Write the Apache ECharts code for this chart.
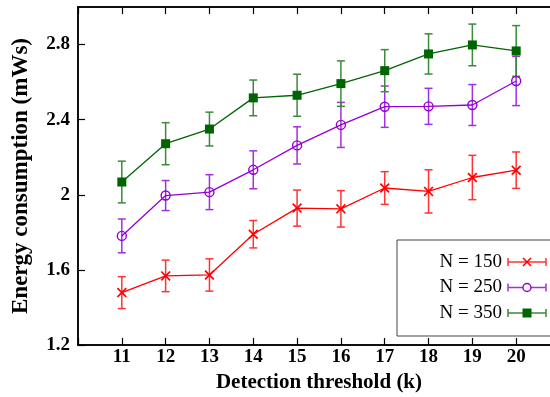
<!DOCTYPE html>
<html><head><meta charset="utf-8">
<script src="https://cdn.jsdelivr.net/npm/echarts@6/dist/echarts.min.js"></script>
<style>html,body{margin:0;padding:0;background:#fff}#c{width:550px;height:397px}</style>
</head><body><div id="c"></div>
<script>
const thresholds = [11,12,13,14,15,16,17,18,19,20];
const n150 = [1.479,1.568,1.573,1.790,1.929,1.925,2.036,2.018,2.092,2.131];
const n150Err = [0.085,0.084,0.086,0.073,0.096,0.097,0.087,0.115,0.118,0.097];
const n250 = [1.781,1.996,2.014,2.133,2.263,2.372,2.469,2.471,2.478,2.606];
const n250Err = [0.090,0.080,0.093,0.101,0.099,0.120,0.110,0.096,0.109,0.131];
const n350 = [2.068,2.272,2.350,2.516,2.530,2.592,2.661,2.750,2.798,2.766];
const n350Err = [0.111,0.112,0.090,0.095,0.112,0.121,0.112,0.107,0.111,0.135];
const seriesNames = ['N = 150','N = 250','N = 350'];
const yTicks = [1.2,1.6,2.0,2.4,2.8];

const RED='#ff0000', PURPLE='#9400d3', GREEN='#006400';
const RED_E='#ff3333', PURPLE_E='#a030e0', GREEN_E='#3a8a3a';
const SERIF='"Liberation Serif","DejaVu Serif",serif';
const crossPath='path://M0,0.12 L0.12,0 L0.5,0.38 L0.88,0 L1,0.12 L0.62,0.5 L1,0.88 L0.88,1 L0.5,0.62 L0.12,1 L0,0.88 L0.38,0.5 Z';

function errData(vals, errs){ return thresholds.map((x,i)=>[x, vals[i]-errs[i], vals[i]+errs[i]]); }
function errSeries(vals, errs, color){
  return {type:'custom', data:errData(vals,errs), z:2, silent:true,
    renderItem:function(params, api){
      const x=api.value(0);
      const lo=api.coord([x, api.value(1)]);
      const hi=api.coord([x, api.value(2)]);
      const w=4;
      const st={stroke:color, lineWidth:1.5};
      return {type:'group', children:[
        {type:'line', shape:{x1:lo[0],y1:lo[1],x2:hi[0],y2:hi[1]}, style:st},
        {type:'line', shape:{x1:lo[0]-w,y1:lo[1],x2:lo[0]+w,y2:lo[1]}, style:st},
        {type:'line', shape:{x1:hi[0]-w,y1:hi[1],x2:hi[0]+w,y2:hi[1]}, style:st}
      ]};
    }};
}
function pair(vals){ return thresholds.map((x,i)=>[x, vals[i]]); }

const chart = echarts.init(document.getElementById('c'), null, {renderer:'canvas'});
const axisLineStyle={color:'#000', width:1.5};
const option = {
  animation:false,
  grid:{left:78, top:7, width:482, height:338, outerBoundsMode:'none', containLabel:false,
    show:true, borderColor:'#000', borderWidth:1.5},
  xAxis:[{type:'value', min:10, max:21, interval:1,
      name:'Detection threshold (k)', nameLocation:'middle', nameGap:26,
      nameTextStyle:{fontFamily:SERIF, fontWeight:'bold', fontSize:21, color:'#000'},
      axisLine:{lineStyle:axisLineStyle}, splitLine:{show:false},
      axisTick:{inside:true, length:7, lineStyle:{color:'#000', width:1.2}},
      axisLabel:{fontFamily:SERIF, fontWeight:'bold', fontSize:19, color:'#000', margin:3,
        formatter:v=>(v>=11&&v<=20)?String(v):''}},
    {type:'value', position:'top', min:10, max:21, interval:1,
      axisLine:{lineStyle:axisLineStyle}, splitLine:{show:false},
      axisTick:{inside:true, length:7, lineStyle:{color:'#000', width:1.2}},
      axisLabel:{show:false}}],
  yAxis:[{type:'value', min:1.2, max:3.0, interval:0.4,
      name:'Energy consumption (mWs)', nameLocation:'middle', nameGap:45,
      nameTextStyle:{fontFamily:SERIF, fontWeight:'bold', fontSize:23, color:'#000'},
      axisLine:{lineStyle:axisLineStyle}, splitLine:{show:false},
      axisTick:{inside:true, length:7, lineStyle:{color:'#000', width:1.2}},
      axisLabel:{fontFamily:SERIF, fontWeight:'bold', fontSize:19, color:'#000', margin:8,
        showMaxLabel:false, formatter:v=>{const r=Math.round(v*10)/10; return yTicks.some(t=>Math.abs(t-r)<1e-6)?String(r):'';}}}],
  series:[
    errSeries(n150,n150Err,RED_E),
    errSeries(n250,n250Err,PURPLE_E),
    errSeries(n350,n350Err,GREEN_E),
    {name:seriesNames[0], type:'line', data:pair(n150), z:3, symbol:crossPath, symbolSize:10,
      lineStyle:{color:RED, width:1.3}, itemStyle:{color:RED}},
    {name:seriesNames[1], type:'line', data:pair(n250), z:3, symbol:'circle', symbolSize:9,
      lineStyle:{color:PURPLE, width:1.3}, itemStyle:{color:'rgba(0,0,0,0)', borderColor:PURPLE, borderWidth:1.4}},
    {name:seriesNames[2], type:'line', data:pair(n350), z:3, symbol:'rect', symbolSize:9,
      lineStyle:{color:GREEN, width:1.3}, itemStyle:{color:GREEN}}
  ],
  graphic:[]
};
const lg=[{c:RED,ce:RED_E,m:'x'},{c:PURPLE,ce:PURPLE_E,m:'o'},{c:GREEN,ce:GREEN_E,m:'s'}];
const g=[{type:'rect', shape:{x:397, y:240, width:170, height:96}, style:{fill:'#fff', stroke:'#444', lineWidth:1}, z:10}];
const rowsY=[262,287.5,313];
lg.forEach((it,i)=>{
  const y=rowsY[i];
  g.push({type:'text', x:502, y:y, z:11, style:{text:seriesNames[i], fill:'#000', font:'19px '+SERIF, align:'right', verticalAlign:'middle'}});
  const st={stroke:it.ce, lineWidth:1.5};
  g.push({type:'line', z:11, shape:{x1:508,y1:y,x2:546,y2:y}, style:st});
  g.push({type:'line', z:11, shape:{x1:508,y1:y-4,x2:508,y2:y+4}, style:st});
  g.push({type:'line', z:11, shape:{x1:546,y1:y-4,x2:546,y2:y+4}, style:st});
  if(it.m==='x'){
    g.push({type:'line', z:12, shape:{x1:523,y1:y-4,x2:531,y2:y+4}, style:{stroke:it.c, lineWidth:1.6}});
    g.push({type:'line', z:12, shape:{x1:523,y1:y+4,x2:531,y2:y-4}, style:{stroke:it.c, lineWidth:1.6}});
  } else if(it.m==='o'){
    g.push({type:'circle', z:12, shape:{cx:527, cy:y, r:4}, style:{fill:'#fff', stroke:it.c, lineWidth:1.4}});
  } else {
    g.push({type:'rect', z:12, shape:{x:522.5, y:y-4.5, width:9, height:9}, style:{fill:it.c}});
  }
});
option.graphic=g;
chart.setOption(option);
</script></body></html>
